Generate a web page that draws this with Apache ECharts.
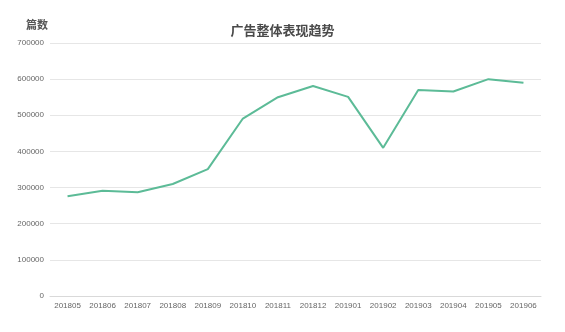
<!DOCTYPE html>
<html><head><meta charset="utf-8">
<script src="https://cdn.jsdelivr.net/npm/echarts@6/dist/echarts.min.js"></script>
<style>html,body{margin:0;padding:0;background:#fff}#c{width:565px;height:332px}</style>
</head><body><div id="c"></div>
<script>
const categories = ['201805','201806','201807','201808','201809','201810','201811','201812','201901','201902','201903','201904','201905','201906'];
const values = [276000, 291000, 287000, 310000, 351000, 491000, 550000, 581000, 551000, 410000, 570000, 566000, 600000, 590000];
const chart = echarts.init(document.getElementById('c'));
chart.setOption({
  backgroundColor: '#fff',
  animation: false,
  title: [
    {text: '广告整体表现趋势', left: 'center', top: 19,
     textStyle: {fontFamily: 'Noto Sans CJK SC', fontSize: 13, fontWeight: 'bold', color: '#4a4a4a'}},
    {text: '篇数', left: 21, top: 14,
     textStyle: {fontFamily: 'Noto Sans CJK SC', fontSize: 11, fontWeight: 'bold', color: '#555'}}
  ],
  grid: {left: 50, right: 24, top: 43, bottom: 36},
  xAxis: {
    type: 'category', data: categories, boundaryGap: true,
    axisLine: {lineStyle: {color: '#d9d9d9'}}, axisTick: {show: false},
    axisLabel: {color: '#666', fontSize: 8, margin: 6, fontFamily: 'Liberation Sans'}
  },
  yAxis: {
    type: 'value', min: 0, max: 700000, interval: 100000,
    axisLine: {show: false}, axisTick: {show: false},
    splitLine: {lineStyle: {color: '#e6e6e6'}},
    axisLabel: {color: '#666', fontSize: 8, margin: 6, fontFamily: 'Liberation Sans',
      formatter: v => String(v)}
  },
  series: [{
    type: 'line', data: values, symbol: 'none',
    lineStyle: {color: '#5cbb97', width: 2}
  }]
});
</script></body></html>
